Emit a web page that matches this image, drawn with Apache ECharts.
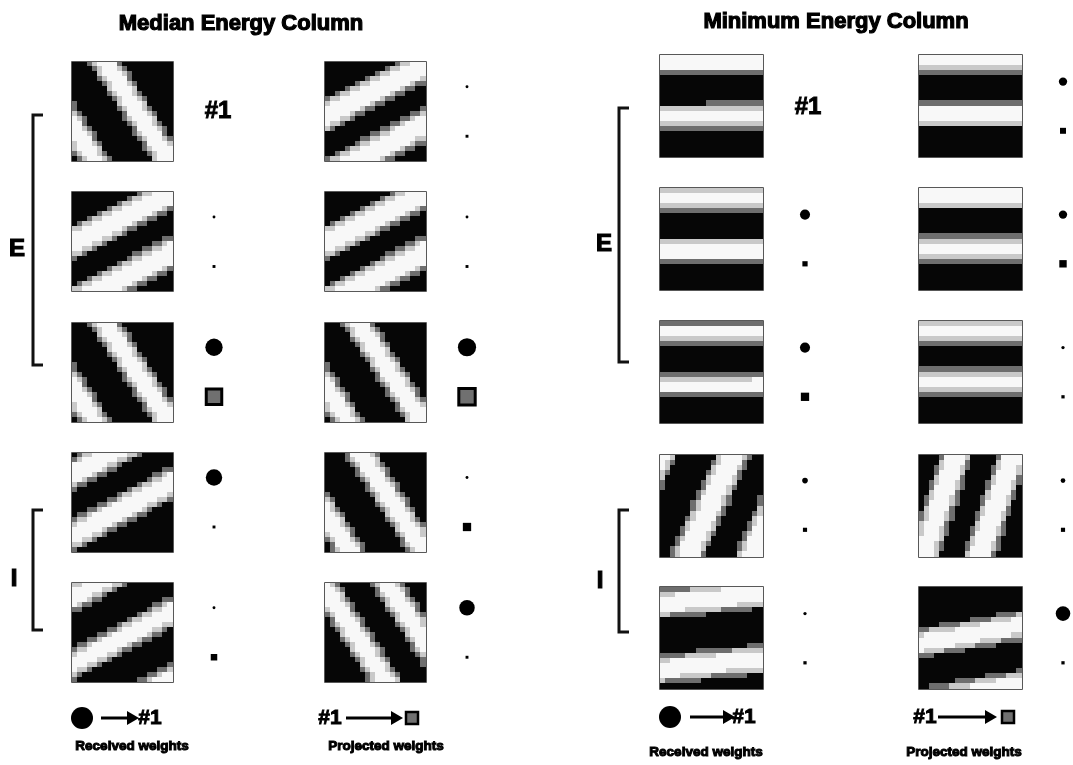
<!DOCTYPE html>
<html>
<head>
<meta charset="utf-8">
<script src="https://cdn.jsdelivr.net/npm/echarts@6/dist/echarts.min.js"></script>
<style>
  html, body { margin: 0; padding: 0; background: #fff; }
  #chart { width: 1073px; height: 765px; }
</style>
</head>
<body>
<div id="chart"></div>
<script>
// Receptive-field gratings: per column (outer) and row (inner) the stripe
// normal angle (deg, image coords), the stripe centre offsets along that
// normal (unit square), and the white stripe width.
const medianAngle = [[-33, 63, -33, 62, 62], [63, 63, -33, -33, -33]];
const medianCenters = [
  [[-0.35, 0.27], [0.47, 1.0], [-0.35, 0.27], [0.2, 0.74], [0.14, 0.73, 1.32]],
  [[0.49, 1.02], [0.47, 1.0], [-0.35, 0.27], [-0.33, 0.29], [-0.03, 0.51]]
];
const medianWidth = [[0.22, 0.25, 0.22, 0.24, 0.22], [0.25, 0.25, 0.22, 0.22, 0.22]];

const minimumAngle = [[90, 90, 90, 24, 84], [90, 90, 90, 18, 80]];
const minimumCenters = [
  [[0.07, 0.61], [0.1, 0.62], [0.12, 0.63], [0.0, 0.65, 1.22], [0.17, 0.81]],
  [[0.06, 0.59], [0.08, 0.6], [0.1, 0.6], [0.35, 0.87], [0.55, 1.12]]
];
const minimumWidth = [[0.2, 0.2, 0.18, 0.25, 0.23], [0.2, 0.2, 0.2, 0.24, 0.22]];

// Connection weights to/from unit #1 (null = unit #1 itself)
const medianReceived = [[null, 0.05, 0.85, 0.8, 0.05], [0.05, 0.05, 0.9, 0.05, 0.75]];
const medianProjected = [[null, 0.05, 0.75, 0.05, 0.25], [0.05, 0.05, 0.8, 0.35, 0.05]];
const minimumReceived = [[null, 0.45, 0.45, 0.2, 0.07], [0.35, 0.35, 0.07, 0.15, 0.7]];
const minimumProjected = [[null, 0.18, 0.35, 0.12, 0.07], [0.22, 0.3, 0.07, 0.12, 0.07]];

const panelTitles = ['Median Energy Column', 'Minimum Energy Column'];
const legendReceived = 'Received weights';
const legendProjected = 'Projected weights';
const unitLabel = '#1';

// ---- layout / style ----
const N = 20; // grating cells per side
const SHADES = ['#060606', '#6e6e6e', '#c9c9c9', '#f8f8f8'];
const FONT = '"Liberation Sans", Arial, sans-serif';

const panels = [
  { lefts: [72, 325], tops: [62, 192, 323, 453, 583], w: 101, h: 99,
    angle: medianAngle, centers: medianCenters, width: medianWidth,
    received: medianReceived, projected: medianProjected,
    mk: { left: 214, width: 253, top: 62, rowH: 130.25, off: [0.19, 0.57] } },
  { lefts: [660, 919], tops: [55, 188, 321, 455, 587], w: 103, h: 102,
    angle: minimumAngle, centers: minimumCenters, width: minimumWidth,
    received: minimumReceived, projected: minimumProjected,
    mk: { left: 805, width: 258, top: 55, rowH: 133, off: [0.2, 0.57] } }
];

function shadeIndex(u, v, angleDeg, centers, width) {
  const a = angleDeg * Math.PI / 180;
  const p = u * Math.cos(a) + v * Math.sin(a);
  let d = Infinity;
  centers.forEach(c => { d = Math.min(d, Math.abs(p - c)); });
  const h = width / 2;
  if (d < h - 0.035) return 3;
  if (d < h) return 2;
  if (d < h + 0.035) return 1;
  return 0;
}

const idx = Array.from({ length: N }, (_, i) => i);
const grids = [], xAxes = [], yAxes = [], series = [];

panels.forEach(P => {
  for (let c = 0; c < 2; c++) {
    for (let r = 0; r < 5; r++) {
      const gi = grids.length;
      grids.push({ left: P.lefts[c], top: P.tops[r], width: P.w, height: P.h,
        show: true, backgroundColor: '#000', borderColor: '#222', borderWidth: 1.5 });
      xAxes.push({ type: 'category', gridIndex: gi, data: idx, show: false });
      yAxes.push({ type: 'category', gridIndex: gi, data: idx, show: false, inverse: true });
      const cells = [];
      for (let j = 0; j < N; j++) {
        for (let i = 0; i < N; i++) {
          cells.push([i, j, shadeIndex((i + 0.5) / N, (j + 0.5) / N,
            P.angle[c][r], P.centers[c][r], P.width[c][r])]);
        }
      }
      series.push({
        type: 'custom', xAxisIndex: gi, yAxisIndex: gi, clip: true, silent: true,
        encode: { x: 0, y: 1 }, data: cells,
        renderItem: (params, api) => {
          const pt = api.coord([api.value(0), api.value(1)]);
          const sz = api.size([1, 1]);
          // widen each cell out to whole pixels so neighbours always overlap
          const x0 = Math.floor(pt[0] - sz[0] / 2), x1 = Math.ceil(pt[0] + sz[0] / 2);
          const y0 = Math.floor(pt[1] - sz[1] / 2), y1 = Math.ceil(pt[1] + sz[1] / 2);
          return { type: 'rect',
            shape: { x: x0, y: y0, width: x1 - x0, height: y1 - y0 },
            style: { fill: SHADES[api.value(2)] } };
        }
      });
    }
  }
  // weight markers beside each grating
  const gi = grids.length;
  grids.push({ left: P.mk.left, width: P.mk.width, top: P.mk.top, height: P.mk.rowH * 5 });
  xAxes.push({ type: 'value', gridIndex: gi, min: 0, max: 1, show: false });
  yAxes.push({ type: 'value', gridIndex: gi, min: 0, max: 5, inverse: true, show: false });
  const recv = [], proj = [];
  for (let c = 0; c < 2; c++) {
    for (let r = 0; r < 5; r++) {
      if (P.received[c][r] != null) recv.push({ value: [c, r + P.mk.off[0], P.received[c][r]] });
      const pw = P.projected[c][r];
      if (pw != null) {
        const big = 2 + 18 * pw >= 12;
        proj.push({ value: [c, r + P.mk.off[1], pw],
          itemStyle: big ? { color: '#707070', borderColor: '#000', borderWidth: 3, opacity: 1 }
                         : { color: '#000', opacity: 1 } });
      }
    }
  }
  const sizeFn = v => 2 + 18 * v[2];
  series.push({ type: 'scatter', xAxisIndex: gi, yAxisIndex: gi, symbol: 'circle',
    symbolSize: sizeFn, itemStyle: { color: '#000', opacity: 1 }, data: recv, silent: true, z: 5 });
  series.push({ type: 'scatter', xAxisIndex: gi, yAxisIndex: gi, symbol: 'rect',
    symbolSize: sizeFn, itemStyle: { opacity: 1 }, data: proj, silent: true, z: 5 });
});

// ---- annotations ----
function txt(x, y, text, size, weight) {
  return { type: 'text', x: x, y: y, silent: true,
    style: { text: text, font: 'bold ' + size + 'px ' + FONT, fill: '#000',
      textAlign: 'center', textVerticalAlign: 'middle',
      stroke: '#000', lineWidth: weight == null ? 0.9 : weight } };
}
function bracket(x, y1, y2) {
  return { type: 'polyline', silent: true,
    shape: { points: [[x + 10, y1], [x, y1], [x, y2], [x + 10, y2]] },
    style: { stroke: '#111', lineWidth: 3, fill: null, lineJoin: 'miter' } };
}
function arrow(x1, x2, y) {
  return [
    { type: 'line', silent: true, shape: { x1: x1, y1: y, x2: x2 - 10, y2: y },
      style: { stroke: '#000', lineWidth: 3 } },
    { type: 'polygon', silent: true,
      shape: { points: [[x2 - 12, y - 7], [x2, y], [x2 - 12, y + 7]] }, style: { fill: '#000' } }
  ];
}
function legendSquare(cx, cy, s) {
  return { type: 'rect', silent: true, shape: { x: cx - s / 2, y: cy - s / 2, width: s, height: s },
    style: { fill: '#707070', stroke: '#000', lineWidth: 2.5 } };
}

const graphic = [
  txt(241, 24, panelTitles[0], 22, 1.2),
  txt(836, 22, panelTitles[1], 22, 1.2),
  bracket(33, 115, 365), txt(17, 249, 'E', 24, 1.2),
  bracket(33, 510, 630), txt(14, 579, 'I', 24, 1.2),
  bracket(619, 108, 362), txt(604, 244, 'E', 24, 1.2),
  bracket(619, 510, 632), txt(600, 581, 'I', 24, 1.2),
  txt(218, 111, unitLabel, 24),
  txt(808, 107, unitLabel, 24),
  // left panel legend
  { type: 'circle', silent: true, shape: { cx: 82, cy: 718, r: 11 }, style: { fill: '#000' } },
  ...arrow(101, 139, 718),
  txt(150, 718, unitLabel, 21),
  txt(132, 746, legendReceived, 13.5, 1),
  txt(330, 718, unitLabel, 21),
  ...arrow(346, 403, 718),
  legendSquare(412, 718, 12),
  txt(386, 746, legendProjected, 13.5, 1),
  // right panel legend
  { type: 'circle', silent: true, shape: { cx: 670, cy: 717, r: 11 }, style: { fill: '#000' } },
  ...arrow(690, 735, 717),
  txt(744, 717, unitLabel, 21),
  txt(706, 752, legendReceived, 13.5, 1),
  txt(925, 717, unitLabel, 21),
  ...arrow(938, 997, 717),
  legendSquare(1008, 717, 12),
  txt(964, 752, legendProjected, 13.5, 1)
];

const chart = echarts.init(document.getElementById('chart'), null, { renderer: 'canvas' });
chart.setOption({
  backgroundColor: '#fff',
  animation: false,
  grid: grids,
  xAxis: xAxes,
  yAxis: yAxes,
  series: series,
  graphic: graphic
});
</script>
</body>
</html>
